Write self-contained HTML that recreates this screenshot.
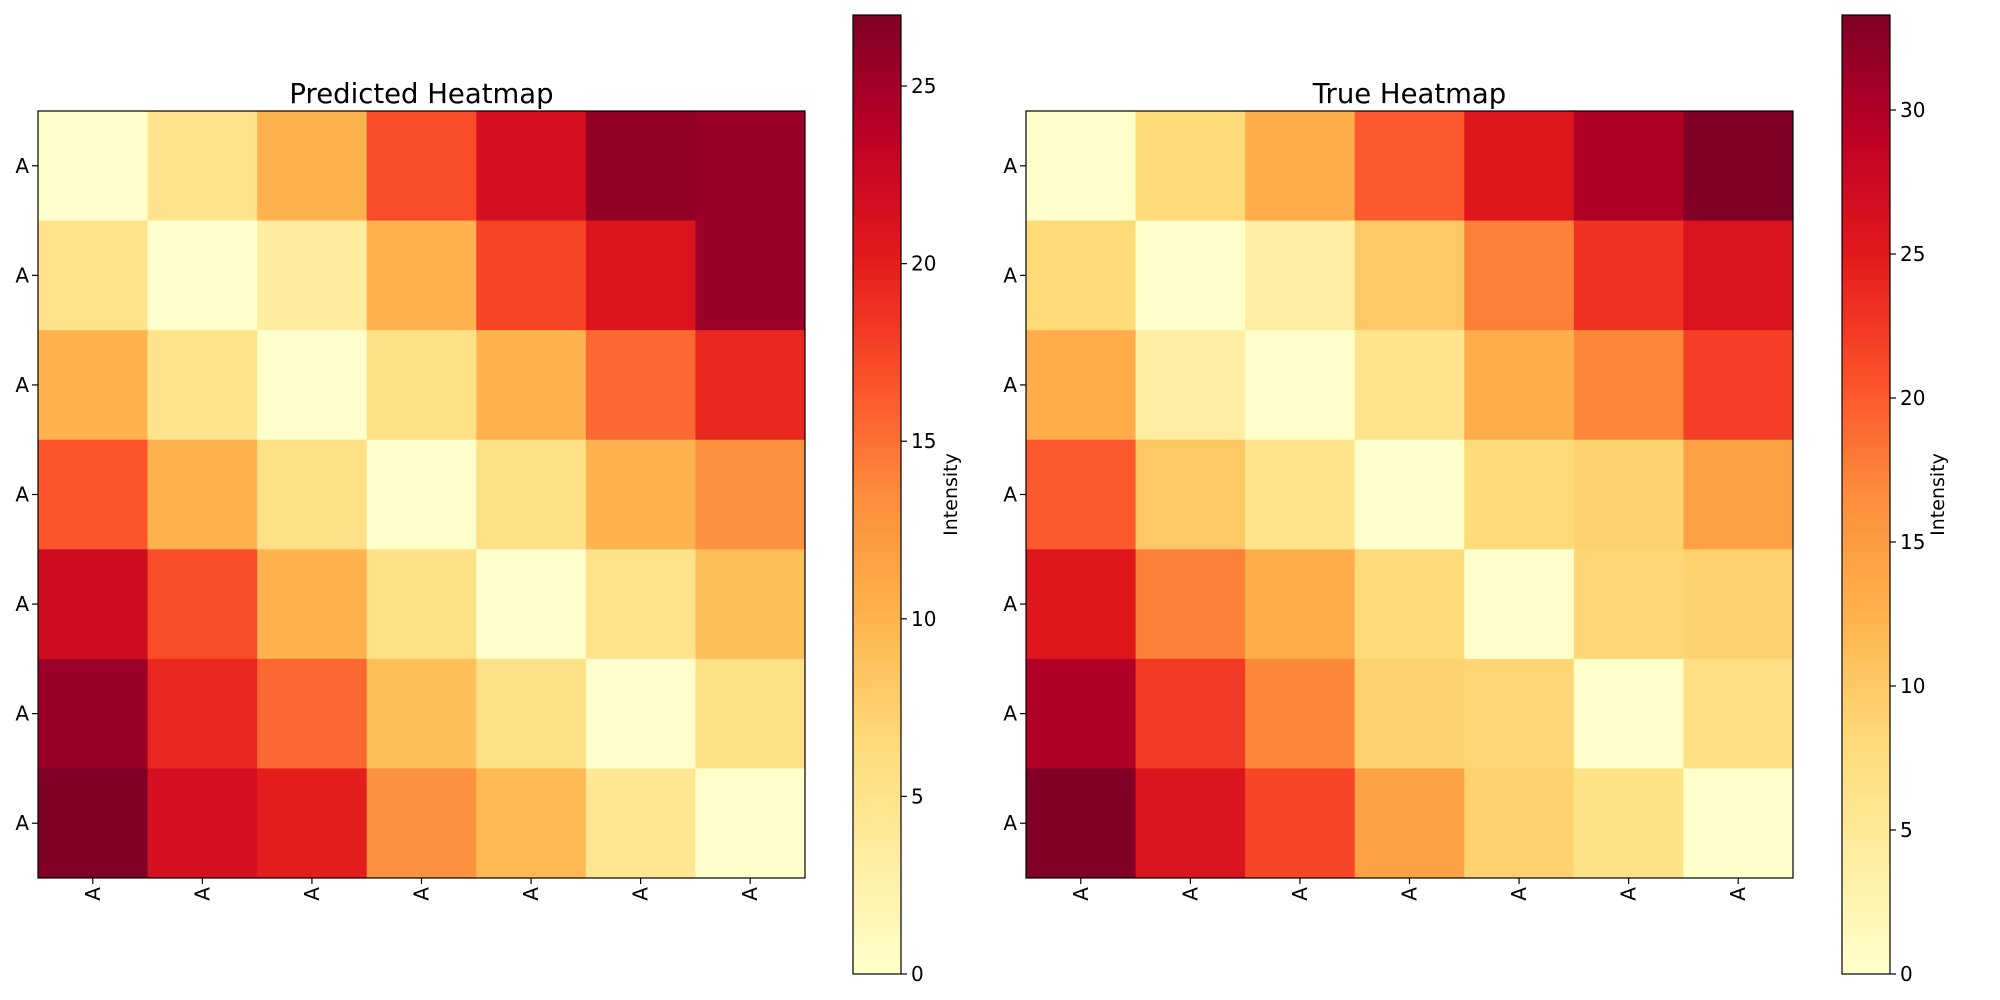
<!DOCTYPE html>
<html><head><meta charset="utf-8"><style>
html,body{margin:0;padding:0;background:#fff;}
svg{display:block;font-family:"DejaVu Sans","Liberation Sans",sans-serif;}
</style></head><body>
<svg id="c" width="2000" height="1000" viewBox="0 0 2000 1000" xmlns="http://www.w3.org/2000/svg"></svg>
<script>
const rowLabels = ["A","A","A","A","A","A","A"];
const colLabels = ["A","A","A","A","A","A","A"];
const predValues = [
 [0,5,10,17,21.5,26,25.5],
 [5,0,3.5,10,17.5,21,25.5],
 [10,5,0,5.5,10,15.5,19.5],
 [16.5,10,5.5,0,5.5,10,13],
 [22,17,10,5.5,0,5,9],
 [25.5,19.5,15.5,9,5.5,0,5.5],
 [27,21.5,20,13,9.5,4.5,0]
];
const trueValues = [
 [0,8,13,20,25.5,30,33.3],
 [8,0,4,10,17.5,23,26],
 [13,4,0,6,13,17,22],
 [20,10,6,0,8,9,14.5],
 [25.5,17.5,13,8,0,8.5,9],
 [30,22.5,17,9,8.5,0,7],
 [33.3,26,21.5,14.5,9,6.5,0]
];
const predTicks = [0,5,10,15,20,25];
const trueTicks = [0,5,10,15,20,25,30];

const NS="http://www.w3.org/2000/svg";
const svg=document.getElementById('c');
const stops=["#ffffcc","#ffeda0","#fed976","#feb24c","#fd8d3c","#fc4e2a","#e31a1c","#bd0026","#800026"];
function hx(h){return [1,3,5].map(i=>parseInt(h.substr(i,2),16));}
function cmap(t){t=Math.max(0,Math.min(1,t));const p=t*(stops.length-1);const i=Math.min(Math.floor(p),stops.length-2);const f=p-i;const a=hx(stops[i]),b=hx(stops[i+1]);return `rgb(${a.map((v,k)=>Math.round(v+(b[k]-v)*f)).join(',')})`;}
function mk(tag,attrs,parent){const e=document.createElementNS(NS,tag);for(const k in attrs)e.setAttribute(k,attrs[k]);(parent||svg).appendChild(e);return e;}

function panel(key,title,values,ticks,x0,cbx,labx){
  const y0=111,W=767,H=767,n=values.length,cw=W/n,ch=H/n;
  const vmin=0,vmax=Math.max(...values.flat());
  const g=mk('g',{});
  
  
  const xs=j=>x0+j*cw, ys=i=>y0+i*ch;
  values.forEach((row,i)=>row.forEach((v,j)=>{
    const r=mk('rect',{x:xs(j),y:ys(i),width:cw+0.5,height:ch+0.5,fill:cmap((v-vmin)/(vmax-vmin))},g);
    
    
  }));
  mk('rect',{x:x0,y:y0,width:W,height:H,fill:'none',stroke:'#000','stroke-width':1.2},g);
  const t=mk('text',{x:x0+W/2,y:y0-8,'text-anchor':'middle','font-size':27.5},g);
  t.textContent=title;
  
  
  rowLabels.forEach((l,i)=>{
    const yy=ys(i)+ch/2;
    mk('line',{x1:x0-6,x2:x0,y1:yy,y2:yy,stroke:'#000','stroke-width':1.2},g);
    const tx=mk('text',{x:x0-9,y:yy+7,'text-anchor':'end','font-size':20},g);
    tx.textContent=l;
    
    
  });
  colLabels.forEach((l,j)=>{
    const xx=xs(j)+cw/2;
    mk('line',{x1:xx,x2:xx,y1:y0+H,y2:y0+H+6,stroke:'#000','stroke-width':1.2},g);
    const tx=mk('text',{x:0,y:0,'text-anchor':'end','font-size':20,transform:`translate(${xx+7},${y0+H+9}) rotate(-90)`},g);
    tx.textContent=l;
    
    
  });
  const cy0=15,cy1=974,cwid=48;
  const cb=mk('g',{});
  
  
  const N=200;
  for(let k=0;k<N;k++){
    mk('rect',{x:cbx,y:cy1-(k+1)/N*(cy1-cy0),width:cwid,height:(cy1-cy0)/N+0.6,fill:cmap(k/N+0.5/N)},cb);
  }
  mk('rect',{x:cbx,y:cy0,width:cwid,height:cy1-cy0,fill:'none',stroke:'#000','stroke-width':1.2},cb);
  const cyv=v=>cy1-(v-vmin)/(vmax-vmin)*(cy1-cy0);
  ticks.forEach(v=>{
    const yy=cyv(v);
    mk('line',{x1:cbx+cwid,x2:cbx+cwid+6,y1:yy,y2:yy,stroke:'#000','stroke-width':1.2},cb);
    const tx=mk('text',{x:cbx+cwid+10,y:yy+7,'font-size':20},cb);
    tx.textContent=v;
    
    
  });
  const lab=mk('text',{x:0,y:0,'text-anchor':'middle','font-size':19,transform:`translate(${labx},${(cy0+cy1)/2}) rotate(-90)`},cb);
  lab.textContent='Intensity';
  
  
}
panel('predicted','Predicted Heatmap',predValues,predTicks,38,853,957);
panel('true','True Heatmap',trueValues,trueTicks,1026,1842,1944);
</script>
</body></html>
